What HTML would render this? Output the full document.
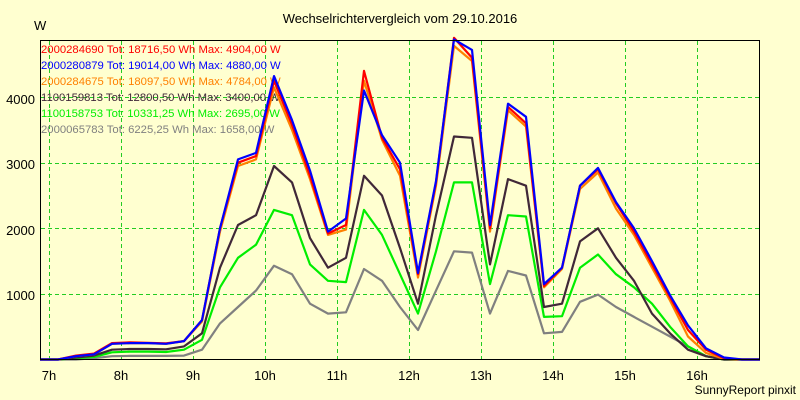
<!DOCTYPE html>
<html><head><meta charset="utf-8"><style>
body{margin:0;background:#ffffd0;}
svg{display:block;font-family:"Liberation Sans",sans-serif;}
</style></head><body>
<svg id="s" width="800" height="400" viewBox="0 0 800 400">
<rect width="800" height="400" fill="#ffffd0"/>
<text x="400" y="23" font-size="13" text-anchor="middle">Wechselrichtervergleich vom 29.10.2016</text>
<text x="34" y="30" font-size="13">W</text>
<g id="grid" stroke="#22cc22" stroke-dasharray="4,3" stroke-width="1"></g>
<g font-size="11.3">
<text x="41" y="53" fill="#ff0000">2000284690 Tot: 18716,50 Wh Max: 4904,00 W</text>
<text x="41" y="69" fill="#0000ff">2000280879 Tot: 19014,00 Wh Max: 4880,00 W</text>
<text x="41" y="85" fill="#ff8000">2000284675 Tot: 18097,50 Wh Max: 4784,00 W</text>
<text x="41" y="101" fill="#402838">1100159813 Tot: 12800,50 Wh Max: 3400,00 W</text>
<text x="41" y="117" fill="#00ee00">1100158753 Tot: 10331,25 Wh Max: 2695,00 W</text>
<text x="41" y="133" fill="#808080">2000065783 Tot: 6225,25 Wh Max: 1658,00 W</text>
</g>
<g id="lines" fill="none" stroke-width="2.2" stroke-linejoin="round"></g>
<rect x="40.5" y="40.5" width="719" height="319" fill="none" stroke="#000" stroke-width="1"/>
<g font-size="13" text-anchor="end">
<text x="35" y="104">4000</text><text x="35" y="169">3000</text><text x="35" y="235">2000</text><text x="35" y="300">1000</text>
</g>
<g id="xl" font-size="13" text-anchor="middle"></g>
<text x="796" y="394" font-size="12" text-anchor="end">SunnyReport pinxit</text>
</svg>
<script>
var Y=v=>359.5-v*0.0656;
var g=document.getElementById('grid'),xl=document.getElementById('xl'),ns='http://www.w3.org/2000/svg';
function el(p,t,a){var e=document.createElementNS(ns,t);for(var k in a)e.setAttribute(k,a[k]);p.appendChild(e);return e;}
for(var h=0;h<10;h++){var x=49+72*h;el(g,'line',{x1:x+.5,x2:x+.5,y1:41,y2:359});var t=el(xl,'text',{x:x,y:380});t.textContent=(7+h)+'h';}
[1000,2000,3000,4000].forEach(v=>el(g,'line',{x1:41,x2:759,y1:Math.round(Y(v))+.5,y2:Math.round(Y(v))+.5}));
var S={
'#808080':[0,0,0,20,50,55,55,55,60,150,550,800,1050,1430,1300,850,700,720,1380,1200,800,450,1050,1650,1630,700,1350,1280,400,420,880,990,800,650,500,350,200,50,0,0,0],
'#00ee00':[0,0,20,40,110,120,120,115,150,300,1100,1550,1750,2280,2200,1450,1200,1180,2280,1900,1300,700,1650,2700,2700,1150,2200,2180,650,660,1400,1600,1300,1100,850,500,200,50,0,0,0],
'#402838':[0,0,30,60,150,160,160,155,200,400,1400,2050,2200,2950,2700,1850,1400,1550,2800,2500,1700,850,2200,3400,3380,1450,2750,2650,800,850,1800,2000,1550,1200,700,400,150,50,0,0,0],
'#ff8000':[0,0,50,80,240,250,250,240,280,580,1950,2950,3050,4150,3500,2750,1900,1980,4250,3350,2800,1250,2650,4780,4550,1950,3800,3550,1100,1380,2600,2850,2300,1900,1400,900,350,100,10,0,0],
'#ff0000':[0,0,60,90,250,260,255,245,280,600,2000,3000,3100,4250,3580,2800,1920,2050,4400,3380,2900,1300,2700,4904,4600,2000,3850,3600,1120,1400,2650,2900,2380,1950,1450,950,450,150,20,0,0],
'#0000ff':[0,0,50,80,240,250,250,240,280,600,2000,3050,3150,4320,3650,2880,1950,2150,4100,3420,3000,1320,2720,4880,4720,2050,3900,3700,1150,1400,2650,2920,2400,2000,1500,980,520,170,30,0,0]};
var L=document.getElementById('lines');
for(var c in S){var p=S[c].map((v,i)=>(40+18*i)+','+Y(v).toFixed(1)).join(' ');el(L,'polyline',{points:p,stroke:c});}
</script>
</body></html>
